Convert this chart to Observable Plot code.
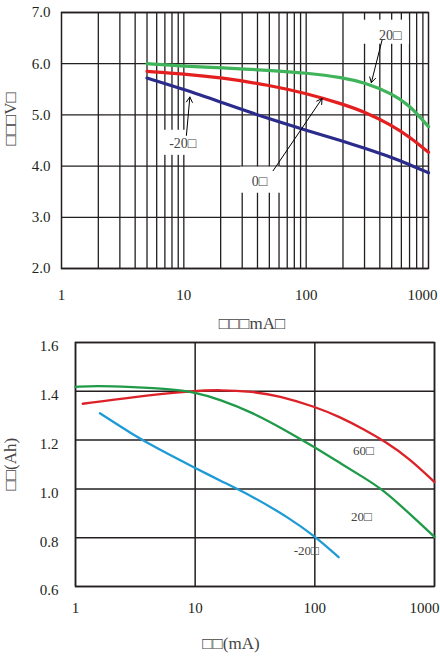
<!DOCTYPE html>
<html>
<head>
<meta charset="utf-8">
<script src="https://cdn.jsdelivr.net/npm/d3@7"></script>
<script src="https://cdn.jsdelivr.net/npm/@observablehq/plot@0.6"></script>
<style>
  html, body { margin: 0; padding: 0; background: #fff; }
  #chart { width: 440px; }
  #chart svg { display: block; }
</style>
</head>
<body>
<div id="chart"></div>
<script>
// ---------- Top panel: voltage vs current ----------
const topCurrent = [5, 10, 20, 50, 100, 200, 300, 500, 700, 1000];
const topV20 = [6.00, 5.95, 5.92, 5.87, 5.82, 5.73, 5.63, 5.42, 5.19, 4.77];
const topV0 = [5.85, 5.80, 5.73, 5.58, 5.42, 5.21, 5.06, 4.80, 4.57, 4.27];
const topVm20 = [5.72, 5.50, 5.25, 4.92, 4.70, 4.49, 4.35, 4.17, 4.03, 3.87];
const topSeries = ["20□", "0□", "-20□"];
const topColors = ["#3fb45a", "#e3201f", "#2b2b8c"];
const topXTicks = [1, 10, 100, 1000];
const topYTicks = [2, 3, 4, 5, 6, 7];
const topGridX = [2, 3, 4, 5, 6, 7, 8, 9, 10, 20, 30, 40, 50, 60, 70, 80, 90, 100, 200, 300, 400, 500, 600, 700, 800, 900];
const topYLabel = "□□□V□";
const topXLabel = "□□□mA□";
// annotations: label position, arrow start, arrow end, white label box
const topAnnText = ["20□", "-20□", "0□"];
const topAnnX = [487, 9.8, 41.5];
const topAnnY = [6.56, 4.45, 3.69];
const topArrX1 = [417, 10.5, 53.7];
const topArrY1 = [6.46, 4.60, 3.91];
const topArrX2 = [341, 11.2, 134.9];
const topArrY2 = [5.63, 5.35, 5.32];
const topBoxX1 = [290, 6.7, 29.0];
const topBoxX2 = [700, 14.2, 61.7];
const topBoxY1 = [6.38, 4.21, 3.47];
const topBoxY2 = [6.85, 4.70, 3.98];

// ---------- Bottom panel: capacity vs current ----------
const botX60 = [1.15, 3, 10, 16, 30, 50, 100, 160, 260, 390, 616, 1000];
const botC60 = [1.349, 1.377, 1.402, 1.406, 1.399, 1.382, 1.337, 1.296, 1.243, 1.193, 1.125, 1.028];
const botX20 = [1, 1.5, 3, 6, 10, 16, 30, 60, 100, 160, 260, 355, 500, 690, 1000];
const botC20 = [1.418, 1.423, 1.417, 1.410, 1.396, 1.367, 1.314, 1.234, 1.170, 1.108, 1.045, 1.002, 0.940, 0.877, 0.803];
const botXm20 = [1.6, 3, 5, 10, 16, 30, 61, 100, 158];
const botCm20 = [1.310, 1.223, 1.162, 1.086, 1.035, 0.970, 0.881, 0.806, 0.720];
const botSeries = ["60□", "20□", "-20□"];
const botColors = ["#dc2228", "#1f9a48", "#1e9ad6"];
const botXTicks = [1, 10, 100, 1000];
const botYTicks = [0.6, 0.8, 1.0, 1.2, 1.4, 1.6];
const botYLabel = "□□(Ah)";
const botXLabel = "□□(mA)";
const botAnnText = ["60□", "20□", "-20□"];
const botAnnX = [255, 245, 85];
const botAnnY = [1.155, 0.884, 0.748];

const FONT = "Liberation Serif, DejaVu Serif, serif";
const INK = "#231f20";

function rows(xs, ys, name) { return xs.map((x, i) => ({x, y: ys[i], s: name})); }

const topData = [
  ...rows(topCurrent, topV20, topSeries[0]),
  ...rows(topCurrent, topV0, topSeries[1]),
  ...rows(topCurrent, topVm20, topSeries[2])
];
const topAnn = topAnnText.map((t, i) => ({
  t, x: topAnnX[i], y: topAnnY[i],
  x1: topArrX1[i], y1: topArrY1[i], x2: topArrX2[i], y2: topArrY2[i],
  bx1: topBoxX1[i], bx2: topBoxX2[i], by1: topBoxY1[i], by2: topBoxY2[i]
}));

const topPlot = Plot.plot({
  width: 440, height: 336,
  marginLeft: 61, marginRight: 12, marginTop: 12, marginBottom: 68,
  style: {fontFamily: FONT, background: "#fff", color: INK},
  x: {type: "log", domain: [1, 1000]},
  y: {domain: [2, 7]},
  color: {domain: topSeries, range: topColors},
  marks: [
    Plot.ruleX(topGridX, {stroke: INK, strokeWidth: 1.3}),
    Plot.ruleY(topYTicks, {stroke: INK, strokeWidth: 1.3}),
    Plot.rect(topAnn, {x1: "bx1", x2: "bx2", y1: "by1", y2: "by2", fill: "#fff"}),
    Plot.frame({stroke: INK, strokeWidth: 1.5}),
    Plot.line(topData, {x: "x", y: "y", z: "s", stroke: "s", strokeWidth: 3.2, curve: "basis"}),
    Plot.arrow(topAnn, {x1: "x1", y1: "y1", x2: "x2", y2: "y2", stroke: "#000", strokeWidth: 1, headLength: 9, bend: false}),
    Plot.text(topAnn, {x: "x", y: "y", text: "t", fontSize: 14, fill: "#444"}),
    Plot.axisX(topXTicks.slice(0, 3), {tickSize: 0, tickPadding: 21, fontSize: 15, tickFormat: d3.format("d"), label: null}),
    Plot.axisX(topXTicks.slice(3), {tickSize: 0, tickPadding: 21, fontSize: 15, dx: -6, tickFormat: d3.format("d"), label: null}),
    Plot.axisY(topYTicks, {tickSize: 0, tickPadding: 11, fontSize: 15, tickFormat: d3.format(".1f"), label: null}),
    Plot.text([topXLabel], {frameAnchor: "bottom", dy: 60, dx: 7, fontSize: 17, fill: "#444"}),
    Plot.text([topYLabel], {frameAnchor: "left", rotate: -90, dx: -51, dy: 5, fontSize: 17, fill: "#444"})
  ]
});

const botData = [
  ...rows(botX60, botC60, botSeries[0]),
  ...rows(botX20, botC20, botSeries[1]),
  ...rows(botXm20, botCm20, botSeries[2])
];
const botAnn = botAnnText.map((t, i) => ({t, x: botAnnX[i], y: botAnnY[i]}));

const botPlot = Plot.plot({
  width: 440, height: 324,
  marginLeft: 75, marginRight: 6, marginTop: 6, marginBottom: 74,
  style: {fontFamily: FONT, background: "#fff", color: INK},
  x: {type: "log", domain: [1, 1000]},
  y: {domain: [0.6, 1.6]},
  color: {domain: botSeries, range: botColors},
  marks: [
    Plot.ruleX(botXTicks, {stroke: INK, strokeWidth: 1.5}),
    Plot.ruleY(botYTicks, {stroke: INK, strokeWidth: 1.5}),
    Plot.frame({stroke: INK, strokeWidth: 1.5}),
    Plot.line(botData, {x: "x", y: "y", z: "s", stroke: "s", strokeWidth: 2.3, curve: "basis"}),
    Plot.text(botAnn, {x: "x", y: "y", text: "t", fontSize: 13, fill: "#444"}),
    Plot.axisX(botXTicks.slice(0, 3), {tickSize: 0, tickPadding: 16, fontSize: 15, tickFormat: d3.format("d"), label: null}),
    Plot.axisX(botXTicks.slice(3), {tickSize: 0, tickPadding: 16, fontSize: 15, dx: -10, tickFormat: d3.format("d"), label: null}),
    Plot.axisY(botYTicks, {tickSize: 0, tickPadding: 17, fontSize: 15, dy: 4, tickFormat: d3.format(".1f"), label: null}),
    Plot.text([botXLabel], {frameAnchor: "bottom", dy: 62, dx: -24, fontSize: 17, fill: "#444"}),
    Plot.text([botYLabel], {frameAnchor: "left", rotate: -90, dx: -65, dy: 26, fontSize: 17, fill: "#444"})
  ]
});

const root = document.getElementById("chart");
root.appendChild(topPlot);
root.appendChild(botPlot);
</script>
</body>
</html>
